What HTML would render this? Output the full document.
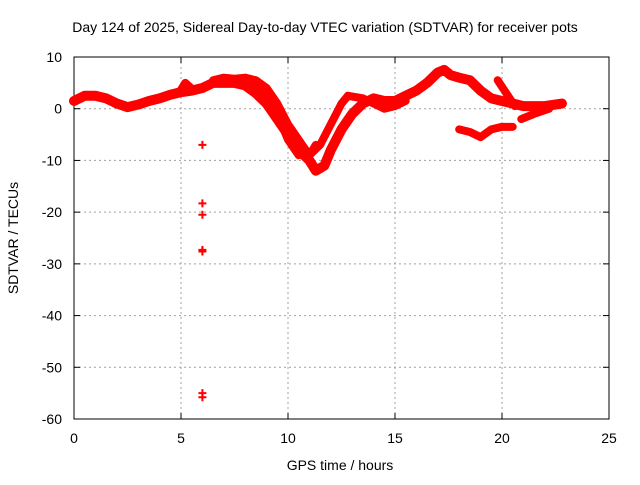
<!DOCTYPE html>
<html><head><meta charset="utf-8"><style>
body{margin:0;background:#fff;}
svg{font-family:"Liberation Sans",sans-serif;font-size:14px;}
</style></head><body>
<svg id="chart" width="640" height="480">
<rect width="640" height="480" fill="#fff"/>
<text x="325" y="32" text-anchor="middle">Day 124 of 2025, Sidereal Day-to-day VTEC variation (SDTVAR) for receiver pots</text>
<g id="grid"></g>
<g id="axes"></g>
<g id="series"></g>
<text x="340" y="470" text-anchor="middle">GPS time / hours</text>
<text transform="translate(18,238) rotate(-90)" text-anchor="middle">SDTVAR / TECUs</text>
</svg>
<script>
const xTicks=[0,5,10,15,20,25];
const yTicks=[10,0,-10,-20,-30,-40,-50,-60];
const traceMainX=[0,0.5,1,1.5,2,2.5,3,3.5,4,4.5,5,5.5,6,6.5,7,7.5,8,8.5,9,9.5,10,10.5,11,11.3,11.7,12,12.5,13,13.5,14,14.5,15,15.5,16,16.5,17,17.3,17.6,18,18.5,19,19.5,20,20.5,21,22,22.8];
const traceMainY=[1.5,2.5,2.5,2,1,0.3,0.8,1.5,2,2.7,3.2,3.5,4,5,5,5,4.5,3,1,-2,-5,-8,-10,-12,-11,-8,-4,-1,1,2,1.5,1.5,2.5,3.5,5,7,7.5,6.5,6,5.5,3.5,2,1.5,1,0.5,0.5,1];
const traceBX=[6.5,7,7.5,8,8.5,9,9.5,10,10.5,11,11.3];
const traceBY=[5.5,6,5.8,6,5.5,4,1,-3,-6,-9,-7];
const traceCX=[8,8.5,9,9.5,10,10.5];
const traceCY=[5,4,2,-1,-6,-9];
const traceDX=[11,11.5,12,12.5,12.8];
const traceDY=[-9,-7,-3,1,2.5];
const traceEX=[12.8,13.5,14,14.5,15,15.5];
const traceEY=[2.5,2,1,0,0.5,1.5];
const traceFX=[18,18.5,19,19.5,20,20.5];
const traceFY=[-4,-4.5,-5.5,-4,-3.5,-3.5];
const traceGX=[19.8,20.2,20.6];
const traceGY=[5.5,3,0.5];
const traceHX=[20.9,21.5,22.2];
const traceHY=[-2,-1,0];
const traceIX=[4.9,5.2,5.6];
const traceIY=[3,5,3.5];
const outlierX=[6,6,6,6,6,6,6];
const outlierY=[-7,-18.3,-20.5,-27.3,-27.6,-55,-55.8];

const L=74,R=609,T=57,B=419;
const sx=v=>L+(v-0)/25*(R-L);
const sy=v=>T+(10-v)/70*(B-T);
const NS="http://www.w3.org/2000/svg";
function mk(tag,attrs,parent){const e=document.createElementNS(NS,tag);for(const k in attrs)e.setAttribute(k,attrs[k]);parent.appendChild(e);return e;}
const grid=document.getElementById('grid'),axes=document.getElementById('axes'),series=document.getElementById('series');
xTicks.forEach(t=>{
  const x=sx(t);
  if(t>0&&t<25){const g=mk('line',{x1:x,x2:x,y1:T,y2:B,stroke:'#a0a0a0','stroke-dasharray':'2,3'},grid);
  
  }
  mk('line',{x1:x,x2:x,y1:B,y2:B-6,stroke:'#000'},axes);
  mk('line',{x1:x,x2:x,y1:T,y2:T+6,stroke:'#000'},axes);
  const tx=mk('text',{x:x,y:B+24,'text-anchor':'middle'},axes);tx.textContent=t;
  
  
});
yTicks.forEach(t=>{
  const y=sy(t);
  if(t<10&&t>-60){const g=mk('line',{x1:L,x2:R,y1:y,y2:y,stroke:'#a0a0a0','stroke-dasharray':'2,3'},grid);
  
  }
  mk('line',{x1:L,x2:L+6,y1:y,y2:y,stroke:'#000'},axes);
  mk('line',{x1:R,x2:R-6,y1:y,y2:y,stroke:'#000'},axes);
  const tx=mk('text',{x:L-12,y:y+5,'text-anchor':'end'},axes);tx.textContent=t;
  
  
});
mk('rect',{x:L,y:T,width:R-L,height:B-T,fill:'none',stroke:'#000'},axes);
const traces=[[traceMainX,traceMainY],[traceBX,traceBY],[traceCX,traceCY],[traceDX,traceDY],[traceEX,traceEY],[traceFX,traceFY],[traceGX,traceGY],[traceHX,traceHY],[traceIX,traceIY]];
traces.forEach(([xs,ys],i)=>{
  const p=mk('polyline',{points:xs.map((x,j)=>sx(x)+','+sy(ys[j])).join(' '),fill:'none',stroke:'#ff0000','stroke-width':i==0?10:8,'stroke-linejoin':'round','stroke-linecap':'round'},series);
  
  
});
outlierX.forEach((x,i)=>{
  const cx=sx(x),cy=sy(outlierY[i]);
  const p=mk('path',{d:`M${cx-4},${cy}H${cx+4}M${cx},${cy-4}V${cy+4}`,stroke:'#ff0000','stroke-width':2},series);
  
  
});
</script>
</body></html>
